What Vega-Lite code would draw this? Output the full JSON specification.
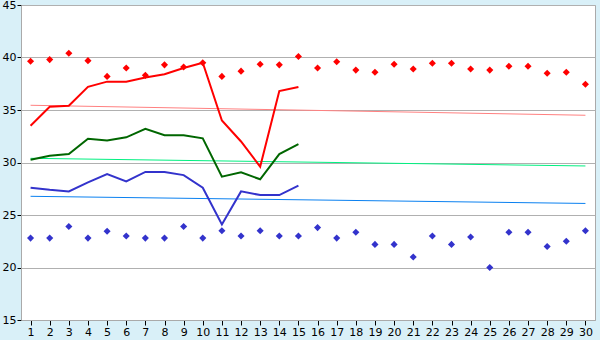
{
  "$schema": "https://vega.github.io/schema/vega-lite/v6.json",
  "width": 574,
  "height": 315,
  "autosize": {"type": "none"},
  "padding": {"left": 21, "top": 5, "right": 5, "bottom": 20},
  "background": "#d9f0f8",
  "config": {
    "view": {"fill": "white", "stroke": "#aaaaaa", "strokeWidth": 1},
    "axis": {"labelFont": "DejaVu Sans", "labelFontSize": 11, "labelColor": "#000000", "domainColor": "#aaaaaa", "tickColor": "#000000", "gridColor": "#b0b0b0", "title": null}
  },
  "datasets": {
    "obs": [
      {"day": 1, "max": 33.5, "mean": 30.27, "min": 27.6},
      {"day": 2, "max": 35.3, "mean": 30.65, "min": 27.4},
      {"day": 3, "max": 35.4, "mean": 30.8, "min": 27.25},
      {"day": 4, "max": 37.2, "mean": 32.27, "min": 28.1},
      {"day": 5, "max": 37.7, "mean": 32.1, "min": 28.9},
      {"day": 6, "max": 37.7, "mean": 32.4, "min": 28.2},
      {"day": 7, "max": 38.1, "mean": 33.2, "min": 29.1},
      {"day": 8, "max": 38.4, "mean": 32.6, "min": 29.1},
      {"day": 9, "max": 39.0, "mean": 32.6, "min": 28.8},
      {"day": 10, "max": 39.5, "mean": 32.3, "min": 27.6},
      {"day": 11, "max": 34.0, "mean": 28.65, "min": 24.1},
      {"day": 12, "max": 32.0, "mean": 29.06, "min": 27.25},
      {"day": 13, "max": 29.6, "mean": 28.4, "min": 26.9},
      {"day": 14, "max": 36.8, "mean": 30.8, "min": 26.9},
      {"day": 15, "max": 37.2, "mean": 31.75, "min": 27.8}
    ],
    "rec": [
      {"day": 1, "hi": 39.64, "lo": 22.8},
      {"day": 2, "hi": 39.8, "lo": 22.8},
      {"day": 3, "hi": 40.4, "lo": 23.9},
      {"day": 4, "hi": 39.7, "lo": 22.8},
      {"day": 5, "hi": 38.2, "lo": 23.45},
      {"day": 6, "hi": 39.0, "lo": 23.0},
      {"day": 7, "hi": 38.3, "lo": 22.8},
      {"day": 8, "hi": 39.3, "lo": 22.8},
      {"day": 9, "hi": 39.1, "lo": 23.9},
      {"day": 10, "hi": 39.5, "lo": 22.8},
      {"day": 11, "hi": 38.2, "lo": 23.5},
      {"day": 12, "hi": 38.7, "lo": 23.0},
      {"day": 13, "hi": 39.35, "lo": 23.5},
      {"day": 14, "hi": 39.3, "lo": 23.0},
      {"day": 15, "hi": 40.1, "lo": 23.0},
      {"day": 16, "hi": 39.0, "lo": 23.8},
      {"day": 17, "hi": 39.6, "lo": 22.8},
      {"day": 18, "hi": 38.8, "lo": 23.35},
      {"day": 19, "hi": 38.6, "lo": 22.2},
      {"day": 20, "hi": 39.35, "lo": 22.2},
      {"day": 21, "hi": 38.9, "lo": 21.0},
      {"day": 22, "hi": 39.45, "lo": 23.0},
      {"day": 23, "hi": 39.45, "lo": 22.2},
      {"day": 24, "hi": 38.9, "lo": 22.9},
      {"day": 25, "hi": 38.8, "lo": 20.0},
      {"day": 26, "hi": 39.16, "lo": 23.35},
      {"day": 27, "hi": 39.16, "lo": 23.35},
      {"day": 28, "hi": 38.5, "lo": 22.0},
      {"day": 29, "hi": 38.6, "lo": 22.5},
      {"day": 30, "hi": 37.45, "lo": 23.5}
    ],
    "norm": [
      {"day": 1, "nmax": 35.45, "nmean": 30.4, "nmin": 26.78},
      {"day": 30, "nmax": 34.5, "nmean": 29.67, "nmin": 26.1}
    ]
  },
  "encoding": {
    "x": {"type": "quantitative", "scale": {"domain": [0.5, 30.5], "nice": false, "zero": false},
      "axis": {"values": [1,2,3,4,5,6,7,8,9,10,11,12,13,14,15,16,17,18,19,20,21,22,23,24,25,26,27,28,29,30], "grid": false, "tickSize": 5, "labelPadding": 1, "format": "d", "labelFlush": false}}
  },
  "layer": [
    {
      "data": {"name": "norm"},
      "mark": {"type": "rule", "opacity": 0},
      "encoding": {
        "x": {"field": "day"},
        "y": {"field": "nmax", "type": "quantitative", "scale": {"domain": [15, 45], "nice": false, "zero": false},
          "axis": {"values": [15, 20, 25, 30, 35, 40, 45], "grid": true, "tickSize": 4, "labelPadding": 1, "domainColor": "#aaaaaa", "labelFlush": false}}
      }
    },
    {
      "data": {"name": "norm"},
      "mark": {"type": "line", "color": "#ff8080", "strokeWidth": 1},
      "encoding": {"x": {"field": "day"}, "y": {"field": "nmax", "type": "quantitative"}}
    },
    {
      "data": {"name": "norm"},
      "mark": {"type": "line", "color": "#00f080", "strokeWidth": 1},
      "encoding": {"x": {"field": "day"}, "y": {"field": "nmean", "type": "quantitative"}}
    },
    {
      "data": {"name": "norm"},
      "mark": {"type": "line", "color": "#0a80f0", "strokeWidth": 1},
      "encoding": {"x": {"field": "day"}, "y": {"field": "nmin", "type": "quantitative"}}
    },
    {
      "data": {"name": "rec"},
      "mark": {"type": "point", "shape": "diamond", "filled": true, "color": "#ff0000", "size": 50, "opacity": 1},
      "encoding": {"x": {"field": "day"}, "y": {"field": "hi", "type": "quantitative"}}
    },
    {
      "data": {"name": "rec"},
      "mark": {"type": "point", "shape": "diamond", "filled": true, "color": "#3333cc", "size": 50, "opacity": 1},
      "encoding": {"x": {"field": "day"}, "y": {"field": "lo", "type": "quantitative"}}
    },
    {
      "data": {"name": "obs"},
      "mark": {"type": "line", "color": "#ff0000", "strokeWidth": 2},
      "encoding": {"x": {"field": "day"}, "y": {"field": "max", "type": "quantitative"}}
    },
    {
      "data": {"name": "obs"},
      "mark": {"type": "line", "color": "#006600", "strokeWidth": 2},
      "encoding": {"x": {"field": "day"}, "y": {"field": "mean", "type": "quantitative"}}
    },
    {
      "data": {"name": "obs"},
      "mark": {"type": "line", "color": "#3333cc", "strokeWidth": 2},
      "encoding": {"x": {"field": "day"}, "y": {"field": "min", "type": "quantitative"}}
    }
  ]
}
